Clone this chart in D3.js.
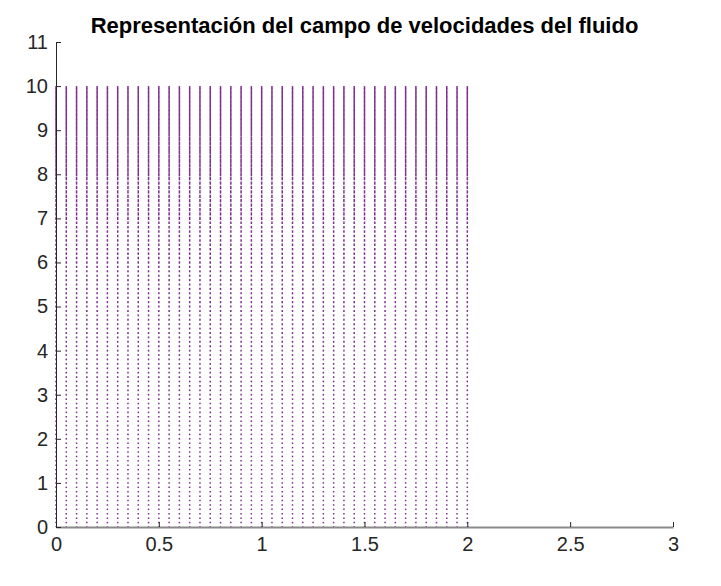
<!DOCTYPE html>
<html lang="es">
<head>
<meta charset="UTF-8">
<title>Campo de velocidades</title>
<style>
  body { margin: 0; background: #fff; }
  svg { display: block; font-family: "Liberation Sans", Arial, sans-serif; }
</style>
</head>
<body>
<svg id="chart" width="721" height="586"></svg>
<script src="https://d3js.org/d3.v7.min.js"></script>
<script>
// data
const xGrid = [0, 0.05, 0.1, 0.15, 0.2, 0.25, 0.3, 0.35, 0.4, 0.45, 0.5, 0.55, 0.6, 0.65, 0.7, 0.75,
  0.8, 0.85, 0.9, 0.95, 1, 1.05, 1.1, 1.15, 1.2, 1.25, 1.3, 1.35, 1.4, 1.45, 1.5, 1.55, 1.6, 1.65,
  1.7, 1.75, 1.8, 1.85, 1.9, 1.95, 2];
const yGrid = [0, 0.1, 0.2, 0.3, 0.4, 0.5, 0.6, 0.7, 0.8, 0.9, 1, 1.1, 1.2, 1.3, 1.4, 1.5, 1.6, 1.7,
  1.8, 1.9, 2, 2.1, 2.2, 2.3, 2.4, 2.5, 2.6, 2.7, 2.8, 2.9, 3, 3.1, 3.2, 3.3, 3.4, 3.5, 3.6, 3.7,
  3.8, 3.9, 4, 4.1, 4.2, 4.3, 4.4, 4.5, 4.6, 4.7, 4.8, 4.9, 5, 5.1, 5.2, 5.3, 5.4, 5.5, 5.6, 5.7,
  5.8, 5.9, 6, 6.1, 6.2, 6.3, 6.4, 6.5, 6.6, 6.7, 6.8, 6.9, 7, 7.1, 7.2, 7.3, 7.4, 7.5, 7.6, 7.7,
  7.8, 7.9, 8, 8.1, 8.2, 8.3, 8.4, 8.5, 8.6, 8.7, 8.8, 8.9, 9, 9.1, 9.2, 9.3, 9.4, 9.5, 9.6, 9.7,
  9.8, 9.9, 10];
// vertical speed for each unit band of y (0-1, 1-2, ... 9-10)
const bandSpeed = [0.3, 0.3, 0.32, 0.35, 0.38, 0.42, 0.5, 0.65, 0.85, 1.0];
const xTicks = [0, 0.5, 1, 1.5, 2, 2.5, 3];
const yTicks = [0, 1, 2, 3, 4, 5, 6, 7, 8, 9, 10, 11];
const title = "Representación del campo de velocidades del fluido";

const svg = d3.select("#chart");
const mLeft = 56, mRight = 673, mTop = 42, mBottom = 527;

const x = d3.scaleLinear().domain([0, 3]).range([mLeft, mRight]);
const y = d3.scaleLinear().domain([0, 11]).range([mBottom, mTop]);
const len = d3.scaleLinear().domain([0, 1]).range([0, 5]);

const points = [];
xGrid.forEach(xv => yGrid.forEach(yv => {
  const band = Math.min(9, Math.floor(yv));
  points.push({ x: xv, y: yv, v: bandSpeed[band] });
}));

svg.append("g")
  .attr("stroke", "#7E2F8E")
  .attr("stroke-width", 1.5)
  .selectAll("line")
  .data(points)
  .join("line")
  .attr("x1", d => x(d.x))
  .attr("x2", d => x(d.x))
  .attr("y1", d => Math.min(y(d.y) + len(d.v) / 2, mBottom))
  .attr("y2", d => Math.max(y(d.y) - len(d.v) / 2, y(10)));

// axes (MATLAB style, ticks inward, no box)
const xAxis = svg.append("g")
  .attr("transform", `translate(0,${mBottom})`)
  .call(d3.axisBottom(x).tickValues(xTicks).tickSizeInner(-5).tickSizeOuter(0).tickPadding(10)
    .tickFormat(d3.format("")));
xAxis.select(".domain").attr("stroke", "#8a8a8a").attr("stroke-width", 2);
xAxis.selectAll(".tick line").attr("stroke", "#262626");
xAxis.selectAll("text").attr("font-size", 20).attr("fill", "#262626");

const yAxis = svg.append("g")
  .attr("transform", `translate(${mLeft},0)`)
  .call(d3.axisLeft(y).tickValues(yTicks).tickSizeInner(-5).tickSizeOuter(0).tickPadding(8));
yAxis.select(".domain").attr("stroke", "#262626").attr("stroke-width", 1);
yAxis.selectAll(".tick line").attr("stroke", "#262626");
yAxis.selectAll("text").attr("font-size", 20).attr("fill", "#262626");

svg.append("text")
  .attr("x", (mLeft + mRight) / 2)
  .attr("y", 33)
  .attr("text-anchor", "middle")
  .attr("font-size", 22)
  .attr("font-weight", "bold")
  .attr("fill", "#000")
  .text(title);
</script>
</body>
</html>
